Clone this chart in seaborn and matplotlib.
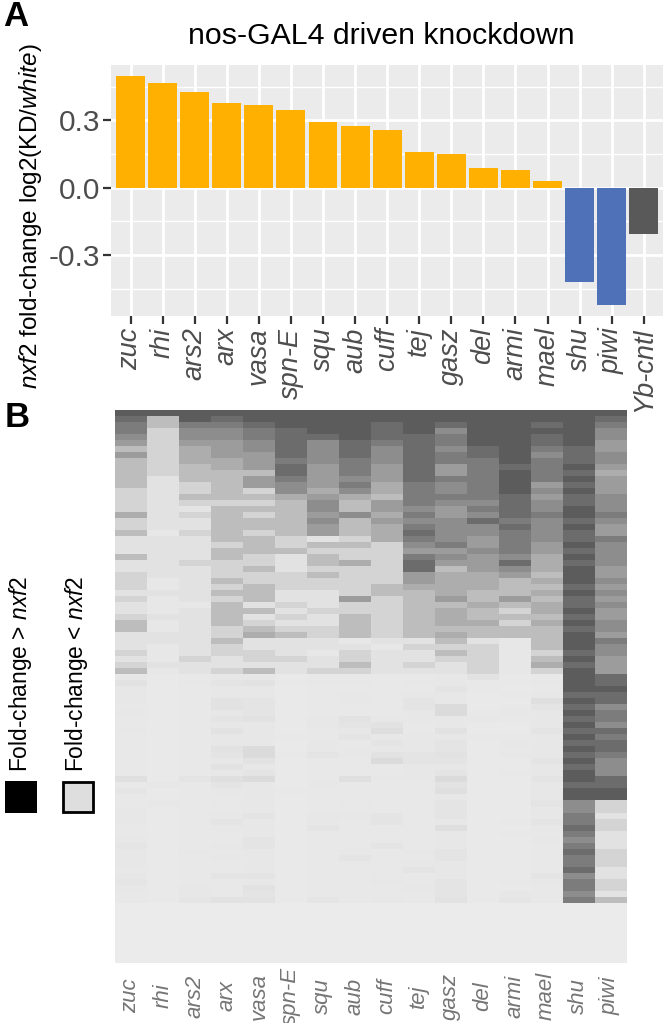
import numpy as np
import pandas as pd
import matplotlib
matplotlib.use("Agg")
import matplotlib.pyplot as plt
from matplotlib.colors import LinearSegmentedColormap
from matplotlib.patches import Rectangle
import seaborn as sns

sns.set_theme(style="white")
plt.rcParams["font.family"] = ["Liberation Sans", "DejaVu Sans"]
plt.rcParams["mathtext.fontset"] = "custom"
plt.rcParams["mathtext.it"] = "Liberation Sans:italic"
plt.rcParams["mathtext.rm"] = "Liberation Sans"

genes = ["zuc","rhi","ars2","arx","vasa","spn-E","squ","aub","cuff","tej","gasz","del","armi","mael","shu","piwi","Yb-cntl"]
fold_change = [0.497,0.465,0.425,0.377,0.367,0.346,0.294,0.275,0.258,0.158,0.151,0.086,0.079,0.028,-0.42,-0.524,-0.208]
groups = ["up"]*14 + ["down"]*2 + ["ctrl"]
group_colors = {"up":"#ffb000","down":"#4f71b8","ctrl":"#595959"}

# Heat-map shades (0 = lightest, 9 = darkest)
zuc  = [9,8,7,7,6,5,3,5,3,3,3,3,3,2,2, 2,2,4,2,2,3,1,1,1,3,1,1,2,2,2, 1,2,1,1,2,3,3,1,1,1,2,1,2,3,.5,
        1,.5,.5,.5,.3,.5,.3,.3,.5,.3,.3,.3,.3,.3,.3,.3,1.2,.3,.7,.3,.3,.5,.5,.5,.3,.3,.5,.7,.5,.5,.5,.3,.5,.7,.5,.3,.3]
rhi  = [9,3,3,2,2,2,2,2,2,2,2,1,1,1,1, 1,1,1,1,1,.5,1,1,1,1,1,1,1,.5,.5, 1,.5,.5,.5,1,.5,.5,1,1,.5,.5,.5,1,.5,.2,
        .2,.2,.2,.2,.2,.2,.2,.2,.2,.2,.2,.2,.2,.2,.2,.2,.2,.5,.2,.2,.5,.2,.2,.2,.2,.2,.2,.2,.2,.2,.2,.2,.2,.2,.2,.2,.2]
ars2 = [9,9,7,6,6,5,4,4,4,3,3,3,2,2,3, 2,.8,2,1,1,2,1,1,1,1,2,1,1,1,1, 1,1,.5,1,1,1,1,1,1,1,1,2,1,1,.3,
        .5,.3,.3,.3,.3,.3,.3,.3,.3,.3,.3,.3,.3,.3,.3,.3,.8,.3,.3,.3,.3,.3,.3,.3,.3,.3,.3,.3,.5,.3,.3,.3,.3,.3,.5,.5,.7]
arx  = [9,8,7,6,6,5,5,5,4,4,3,3,3,3,3, 2,3,3,3,3,3,3,2,3,3,2,2,2,3,2, 3,2,3,3,3,3,2,2,3,2,2,1,1,2,.5,
        .8,.5,.5,1,1,.5,.8,.5,1,.5,.5,1,.8,.5,1,.5,1.2,.8,.5,.3,.5,.3,.5,.8,.5,.3,.3,.5,.3,.5,.3,.3,.8,.3,.3,.3,1]
vasa = [9,9,8,7,7,6,6,5,5,5,3,5,5,2,3, 2,3,2,3,3,2,3,3,3,2,2,3,2,2,3, 3,3,1,3,1,2,3,4,1,1,2,2,1,3,.5,
        1,.5,.5,.8,.8,.8,1,.5,.5,.5,.5,1.5,1.5,1,.5,.8,1.5,.5,.5,.5,.5,.5,.8,.5,.5,.5,.8,.8,.5,.5,.5,.5,.8,.5,1,.8,1]
spn_e= [9,9,9,8,8,8,8,8,7,8,8,7,6,6,4, 3,3,3,3,3,3,2,2,3,1,1,1,2,2,2, 1,1,2,1,2,1,2,3,1,1,1,2,1,1,.2,
        .3,.2,.2,.2,.2,.2,.2,.2,.2,.3,.2,.2,.3,.2,.2,.2,.2,.2,.3,.2,.2,.2,.2,.2,.2,.2,.2,.2,.2,.2,.2,.2,.2,.2,.2,.2,.2]
squ  = [9,9,9,9,8,6,6,6,6,5,5,5,5,4,5, 6,6,5,6,5,5,1,3,2,3,3,2,3,2,2, 1,1,1,2,1,1,2,2,1,1,.5,1,1,2,.3,
        .5,.3,.3,.3,.3,.3,.5,.5,.3,.3,.5,.5,.8,.3,.3,.3,.3,.5,.3,.3,.3,.3,.5,.5,.8,.3,.3,.3,.3,.3,.3,.3,.3,.3,.3,.3,.7]
aub  = [9,9,9,9,9,8,8,8,7,7,7,6,7,6,4, 3,3,6,3,3,3,2,3,2,2,4,2,2,2,2, 2,5,2,2,3,3,3,3,.5,1,2,2,3,2,.3,
        .5,.3,.5,.5,.3,.3,1,.8,.5,.8,.3,.5,.5,.3,.3,.3,1.2,.3,.3,.3,.5,.3,.5,.3,.3,.3,.3,.3,.5,.8,.3,.3,.3,.3,.3,.3,.3]
cuff = [9,9,8,8,8,7,6,6,6,5,5,5,4,4,3, 5,5,4,5,4,4,4,2,2,2,2,2,2,2,3, 3,2,2,2,2,2,2,2,1,.5,1,1,1,1,.3,
        .3,.3,.3,.3,.3,.3,.5,1,1.3,.5,.8,.5,1,1.5,.3,.3,.5,.3,.3,.3,.3,.3,.8,.8,.3,.3,.3,.8,.3,.3,.3,.3,.5,.5,.3,.3,.5]
tej  = [9,9,9,9,8,8,8,8,8,8,8,8,7,7,7, 7,6,7,6,7,8,7,6,5,7,8,8,5,5,4, 3,3,3,3,3,3,3,3,1,2,1,1,2,1,.3,
        .5,.3,.5,.8,.8,.5,.5,.3,.3,.5,.5,.5,.8,.8,.5,.5,.5,.3,.3,.3,.3,.3,.3,.3,.3,.3,.3,.3,.5,.3,.5,.8,.3,.3,.5,.3,.3]
gasz = [9,9,8,6,7,7,6,7,7,5,5,7,6,6,7, 6,5,5,6,6,6,6,7,5,6,5,3,4,4,4, 4,5,3,4,4,4,3,4,3,2,3,2,1,1,.5,
        .5,.8,.5,.5,1.5,1.5,.5,.5,1,.5,.8,.8,1,.8,.5,.8,1.5,1,1.2,.5,.8,.8,.8,.5,1.2,.5,.5,.5,.8,.8,.5,.5,.5,.8,.8,.8,1]
del_ = [9,9,9,9,9,9,8,8,7,7,7,7,7,7,7, 6,7,6,8,6,6,5,5,6,5,5,5,4,4,4, 3,3,4,3,3,4,3,3,1,2,2,2,2,2,1,
        .3,.3,.2,.2,.2,.3,.5,.2,.2,.3,.2,.2,.2,.2,.2,.2,.2,.2,.2,.2,.2,.2,.2,.2,.2,.2,.2,.2,.2,.2,.2,.2,.2,.2,.2,.2,.2]
armi = [9,9,9,9,9,9,9,9,9,8,9,9,9,9,8, 8,8,8,7,8,7,7,7,7,6,8,6,5,3,3, 3,5,3,2,3,2,3,3,.5,.5,.5,.5,.5,.5,.2,
        .3,.2,.3,.2,.3,.5,.3,.2,.2,.3,.5,.3,.5,.2,.2,.3,.2,.2,.2,.2,.2,.2,.2,.3,.2,.3,.2,.2,.2,.2,.2,.2,.2,.3,.2,.5,.7]
mael = [9,9,8,9,8,8,7,6,7,7,7,7,5,6,5, 6,6,7,6,6,6,6,5,5,4,4,4,3,4,3, 4,3,4,4,3,4,3,3,3,3,2,3,4,2,.3,
        .5,.3,.5,1.2,.8,.5,.5,.5,.8,.5,.5,.5,.5,.8,.5,.5,.8,.5,.5,.5,.8,.5,.5,.8,.5,.3,.5,.3,.3,.3,.3,.3,.8,.5,.3,.3,.3]
shu  = [9,9,9,9,9,9,8,8,8,9,8,9,8,9,8, 8,9,9,8,9,8,8,9,8,9,8,9,9,9,8, 9,8,8,9,8,9,8,9,9,9,8,9,8,9,9,
        9,9,8,9,8,9,8,9,8,9,8,9,8,9,8,9,9,8,9,9,6,6,7,7,8,7,6,7,8,7,7,8,6,7,7,6,7]
piwi = [9,8,7,6,6,5,5,6,6,5,4,5,5,5,6, 6,6,7,6,5,5,7,6,6,6,6,5,5,6,5, 6,5,6,5,5,6,6,5,7,6,6,5,5,5,8,
        8,9,8,8,6,7,7,6,8,7,8,8,7,6,6,6,8,8,9,9,2,2,1,2,2,1,1,1,2,2,2,1,1,2,2,1,3]

columns = {"zuc":zuc,"rhi":rhi,"ars2":ars2,"arx":arx,"vasa":vasa,"spn-E":spn_e,"squ":squ,"aub":aub,
           "cuff":cuff,"tej":tej,"gasz":gasz,"del":del_,"armi":armi,"mael":mael,"shu":shu,"piwi":piwi}
n_rows = 92
heat = pd.DataFrame({k:(v + [0]*n_rows)[:n_rows] for k,v in columns.items()})

W, H = 666, 1029
fig = plt.figure(figsize=(W/100, H/100), dpi=100, facecolor="white")
def box(l,t,r,b):
    return [l/W, 1-b/H, (r-l)/W, (b-t)/H]

# Panel A
ax = fig.add_axes(box(111.3,65,663,316), facecolor="#ebebeb")
df = pd.DataFrame({"gene":genes,"fc":fold_change,"group":groups})
sns.barplot(data=df, x="gene", y="fc", hue="group", palette=group_colors, dodge=False,
            width=0.9, legend=False, ax=ax, saturation=1, zorder=3, linewidth=0)
ax.set_xlim(-0.6,16.6)
ax.set_ylim(-0.5715,0.5465)
ax.set_yticks([-0.3,0,0.3]); ax.set_yticklabels(["-0.3","0.0","0.3"])
ax.set_yticks([-0.45,-0.15,0.15,0.45], minor=True)
ax.grid(True, which="major", color="white", lw=2.0, zorder=1)
ax.grid(True, which="minor", axis="y", color="white", lw=1.0, zorder=1)
ax.set_axisbelow(True)
for s in ax.spines.values(): s.set_visible(False)
ax.tick_params(axis="both", which="major", length=5.8, width=1.6, color="#333333", labelcolor="#4d4d4d", left=True, bottom=True, pad=2.5)
ax.tick_params(axis="y", which="minor", length=0)
ax.tick_params(axis="y", labelsize=21.5, pad=2)
ax.set_xticks(range(17)); ax.set_xticklabels(genes, rotation=90, style="italic", fontsize=19.5)
ax.set_xlabel(""); ax.set_ylabel("")
fig.text(31/W, 1-216/H, r"$\mathit{nxf2}$ fold-change log2(KD/$\mathit{white}$)", rotation=90,
         fontsize=17.5, color="black", ha="center", va="center")
fig.text(381/W, 1-36/H, "nos-GAL4 driven knockdown", fontsize=21.8, color="black", ha="center", va="center")
fig.text(3/W, 1-17/H, "A", fontsize=25, fontweight="bold", color="black", ha="left", va="center")
fig.text(5/W, 1-418/H, "B", fontsize=25, fontweight="bold", color="black", ha="left", va="center")

# Panel B
ax2 = fig.add_axes(box(115,410,626.5,962.7))
cmap = LinearSegmentedColormap.from_list("g", [(0,"#ebebeb"),(1/9,"#e2e2e2"),(2/9,"#d4d4d4"),(1/3,"#bdbdbd"),(1,"#5c5c5c")])
sns.heatmap(heat, ax=ax2, cmap=cmap, vmin=0, vmax=9, cbar=False, yticklabels=False, xticklabels=True, rasterized=True)
ax2.set_xticklabels(list(heat.columns), rotation=90, style="italic", fontsize=16, color="#757575", va="center")
ax2.tick_params(axis="x", length=0, pad=24)
ax2.tick_params(axis="y", length=0)
ax2.set_xlabel(""); ax2.set_ylabel("")

# White strip that crops the longest lower label at the picture's foot, as in the reference
fig.add_artist(Rectangle((0,0),1,6/H,transform=fig.transFigure,facecolor="white",edgecolor="none",zorder=10))

# Hand-drawn legend
fig.text(21/W, 1-772/H, r"Fold-change > $\mathit{nxf2}$", rotation=90, fontsize=16.4, ha="center", va="bottom", color="black")
fig.text(77/W, 1-772/H, r"Fold-change < $\mathit{nxf2}$", rotation=90, fontsize=16.4, ha="center", va="bottom", color="black")
fig.add_artist(Rectangle((5/W,1-813/H),32/W,32/H,transform=fig.transFigure,facecolor="black",edgecolor="none"))
fig.add_artist(Rectangle((63/W,1-812/H),30/W,30/H,transform=fig.transFigure,facecolor="#dedede",edgecolor="black",lw=2))

fig.savefig("out.png", dpi=100, facecolor="white")
